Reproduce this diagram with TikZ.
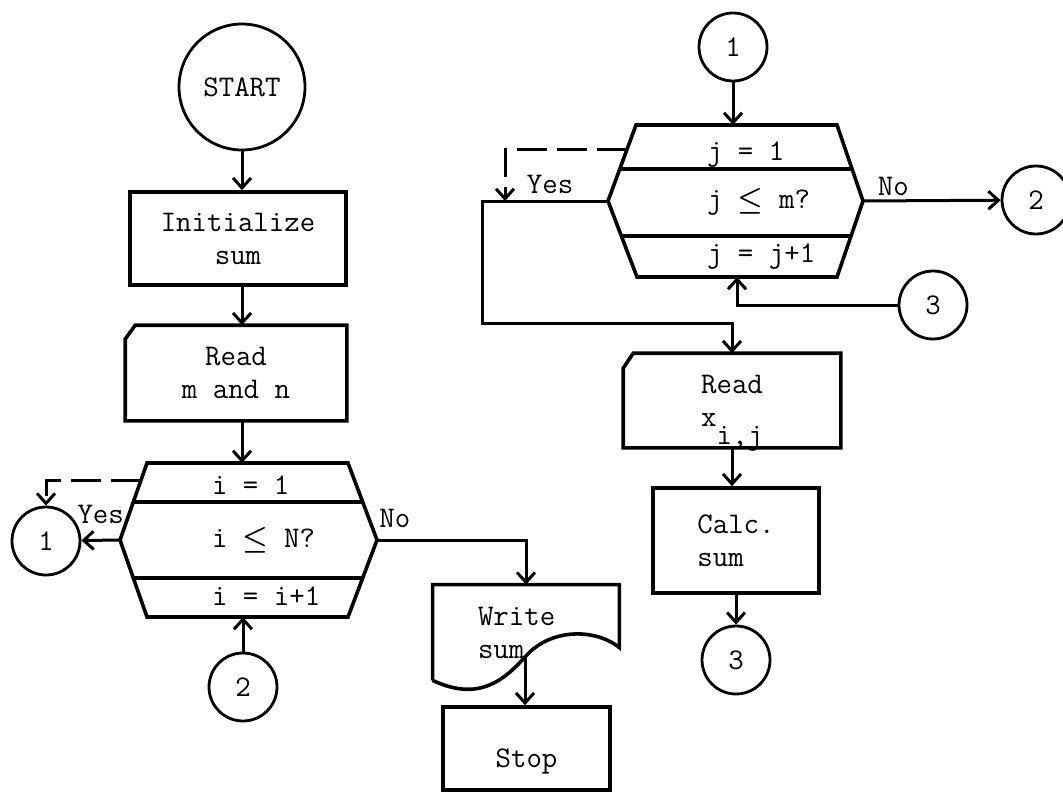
\documentclass[tikz,border=0pt]{standalone}
\usetikzlibrary{arrows.meta,calc}

\begin{document}
\begin{tikzpicture}[x=0.5pt,y=-0.5pt,
	every node/.style={font=\ttfamily\fontsize{15}{16.5}\selectfont},
	proc/.style={draw,line width=1.8pt,align=center,inner sep=2pt},
	conn/.style={circle,draw,line width=1.4pt,minimum size=34pt,inner sep=0pt},
	outline/.style={line width=1.8pt},
	flow/.style={line width=1.5pt,-{Straight Barb[length=5pt,width=9pt]}},
	jump/.style={flow,dash pattern=on 15pt off 5pt}]
\useasboundingbox (0,0) rectangle (1063,791);
\clip (0,0) rectangle (1063,791);

% outer loop over i
\node[conn,minimum size=63pt] (start) at (242,87) {START};
\node[proc,minimum width=108pt,minimum height=46.5pt] (init) at (238,238.5) {Initialize\\sum};
\node[proc,draw=none,minimum width=109pt,minimum height=46pt] (readmn) at (236,373) {Read\\m and n};
\draw[outline] ([xshift=5pt]readmn.north west) -- (readmn.north east) -- (readmn.south east)
	-- (readmn.south west) -- ([yshift=-7pt]readmn.north west) -- cycle;

\coordinate (iw) at (120,540);
\coordinate (inw) at (147,463);
\coordinate (ine) at (348,463);
\coordinate (ie) at (377,540);
\coordinate (ise) at (348,617);
\coordinate (isw) at (147,617);
\draw[outline] (iw) -- (inw) -- (ine) -- (ie) -- (ise) -- (isw) -- cycle;
\draw[outline] ($(iw)!0.49!(inw)$) -- ($(ie)!0.49!(ine)$);
\draw[outline] ($(iw)!0.49!(isw)$) -- ($(ie)!0.49!(ise)$);
\node[anchor=west] (iinit) at (205,485) {i = 1};
\node[anchor=west] (itest) at (205,540) {i {\boldmath$\leq$} N?};
\node[anchor=west] (iinc) at (205,596) {i = i+1};

\node[conn] (c1a) at (46,541) {1};
\node[conn] (c2a) at (243,687) {2};

\node[draw=none,align=left,text width=48pt,inner xsep=22.5pt,minimum width=93pt,
	minimum height=47.5pt] (write) at (526,632.5) {Write\\sum};
\coordinate (wavemid) at (525,657);
\draw[outline] (write.south west) -- (write.north west) -- (write.north east)
	-- ([yshift=-31.5pt]write.north east) .. controls (595,628) and (550,628) .. (wavemid)
	.. controls (500,685) and (475,700) .. (write.south west);
\node[proc,minimum width=83.5pt,minimum height=41.5pt,text height=18.5pt,text depth=0pt] (stop) at (526.5,748.5) {Stop};

\draw[flow] (start) -- (start |- init.north);
\draw[flow] (init.south -| start) -- (start |- readmn.north);
\draw[flow] (readmn.south -| start) -- (start |- inw);
\draw[flow] (iw) -- node[above=4pt] {Yes} (c1a);
\draw[jump] ($(iw)!0.77!(inw)$) -| (c1a.north);
\draw[flow] (ie) -| node[pos=0.06,above=2pt] {No} (write.north);
\draw[flow] (c2a) -- (c2a |- isw);
\draw[flow] (wavemid) -- (wavemid |- stop.north);

% inner loop over j
\node[conn] (c1b) at (733,47) {1};
\coordinate (jw) at (608,201);
\coordinate (jnw) at (636,125);
\coordinate (jne) at (837,125);
\coordinate (je) at (863,201);
\coordinate (jse) at (837,277);
\coordinate (jsw) at (637,277);
\draw[outline] (jw) -- (jnw) -- (jne) -- (je) -- (jse) -- (jsw) -- cycle;
\draw[outline] ($(jw)!0.42!(jnw)$) -- ($(je)!0.42!(jne)$);
\draw[outline] ($(jw)!0.46!(jsw)$) -- ($(je)!0.46!(jse)$);
\node[anchor=west] (jinit) at (700,155) {j = 1};
\node[anchor=west] (jtest) at (700,202) {j {\boldmath$\leq$} m?};
\node[anchor=west] (jinc) at (700,257) {j = j+1};

\node[conn] (c2b) at (1036,200) {2};
\node[conn] (c3a) at (933,305) {3};

\node[proc,draw=none,minimum width=107pt,minimum height=45.5pt] (readx) at (732,400.5) {Read\\x\raisebox{-9pt}[0pt][0pt]{i,j}};
\draw[outline] ([xshift=5pt]readx.north west) -- (readx.north east) -- (readx.south east)
	-- (readx.south west) -- ([yshift=-7.5pt]readx.north west) -- cycle;
\node[proc,align=left,minimum width=83pt,minimum height=52.5pt] (calc) at (736,540.5) {Calc.\\sum};
\node[conn] (c3b) at (736,660) {3};

\coordinate (yesbend) at (482,323);
\coordinate (jyes) at (505,201);
\draw[flow] (c1b) -- (c1b |- jnw);
\draw[flow] (jw) -| node[pos=0.23,above=2pt,inner sep=1pt] {Yes} (yesbend) -| (readx.north);
\draw[jump] ($(jw)!0.68!(jnw)$) -| (jyes);
\draw[flow] (je) -- node[pos=0.22,above=1pt,inner sep=1pt] {No} (c2b);
\draw[flow] (c3a.west) -| ($(jsw)!0.5!(jse)$);
\draw[flow] (readx.south) -- (readx.south |- calc.north);
\draw[flow] (calc) -- (c3b);
\end{tikzpicture}
\end{document}
